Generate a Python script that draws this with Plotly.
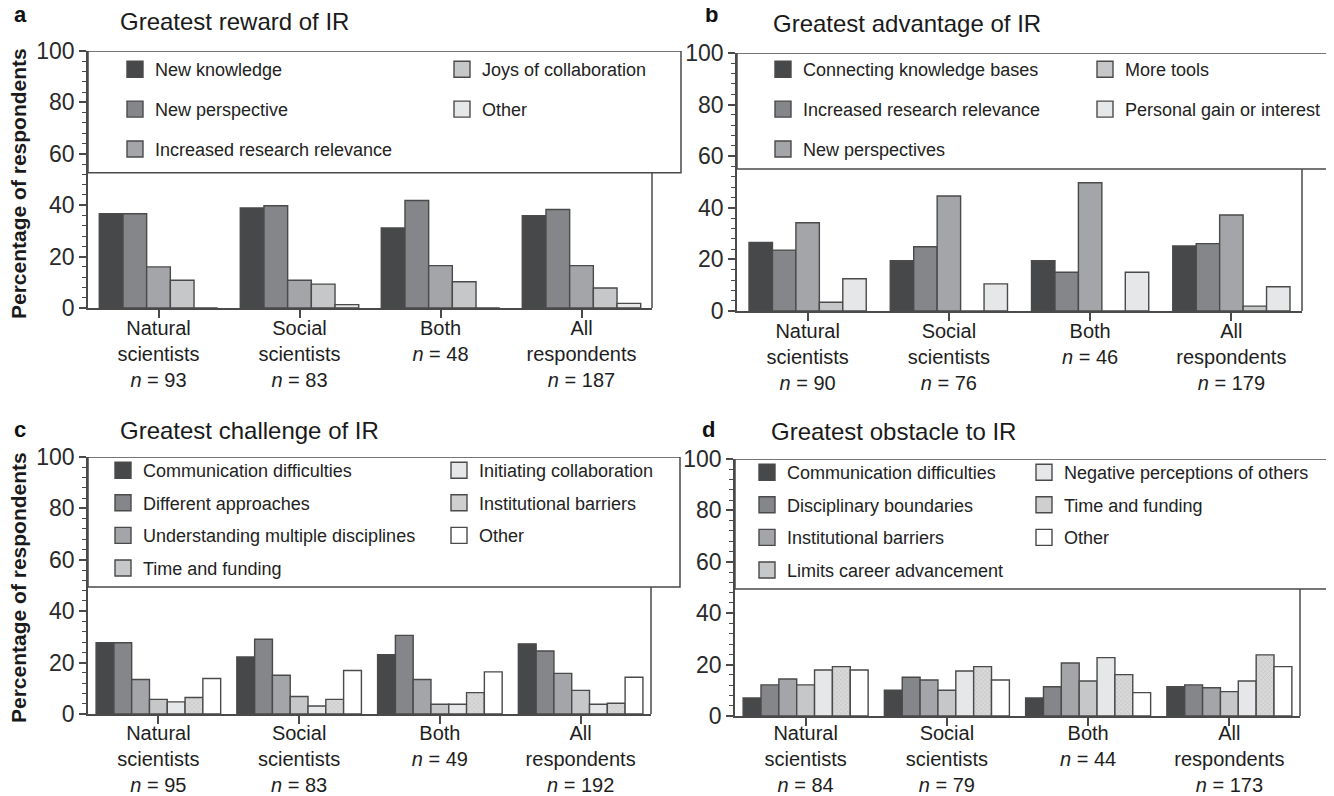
import plotly.graph_objects as go

# The page places the figure 8 px from the window's top-left corner,
# so the figure is sized to the remaining visible area and positions are
# given in window pixels minus that offset.
OFF = 8
W, H = 1334 - OFF, 796 - OFF
FONT = "Liberation Sans, Arial, Helvetica, sans-serif"

groups = ["Natural scientists", "Social scientists", "Both", "All respondents"]
labels_a = ["Natural<br>scientists<br><i>n</i> = 93", "Social<br>scientists<br><i>n</i> = 83",
            "Both<br><i>n</i> = 48", "All<br>respondents<br><i>n</i> = 187"]
labels_b = ["Natural<br>scientists<br><i>n</i> = 90", "Social<br>scientists<br><i>n</i> = 76",
            "Both<br><i>n</i> = 46", "All<br>respondents<br><i>n</i> = 179"]
labels_c = ["Natural<br>scientists<br><i>n</i> = 95", "Social<br>scientists<br><i>n</i> = 83",
            "Both<br><i>n</i> = 49", "All<br>respondents<br><i>n</i> = 192"]
labels_d = ["Natural<br>scientists<br><i>n</i> = 84", "Social<br>scientists<br><i>n</i> = 79",
            "Both<br><i>n</i> = 44", "All<br>respondents<br><i>n</i> = 173"]

# Panel a: Greatest reward of IR
series_a = ["New knowledge", "New perspective", "Increased research relevance",
            "Joys of collaboration", "Other"]
values_a = [
    [36.7, 38.9, 31.1, 35.9],
    [36.7, 39.8, 41.8, 38.3],
    [16.0, 10.8, 16.5, 16.5],
    [10.8, 9.3, 10.2, 7.8],
    [0.0, 1.3, 0.0, 1.8],
]
# Panel b: Greatest advantage of IR
series_b = ["Connecting knowledge bases", "Increased research relevance", "New perspectives",
            "More tools", "Personal gain or interest"]
values_b = [
    [26.6, 19.5, 19.5, 25.2],
    [23.6, 24.9, 15.0, 26.1],
    [34.2, 44.6, 49.7, 37.2],
    [3.4, 0.0, 0.0, 1.9],
    [12.5, 10.5, 15.0, 9.4],
]
# Panel c: Greatest challenge of IR
series_c = ["Communication difficulties", "Different approaches", "Understanding multiple disciplines",
            "Time and funding", "Initiating collaboration", "Institutional barriers", "Other"]
values_c = [
    [27.7, 22.2, 23.1, 27.3],
    [27.7, 29.1, 30.6, 24.5],
    [13.4, 15.1, 13.4, 15.8],
    [5.7, 6.8, 3.8, 9.2],
    [4.7, 3.1, 3.8, 3.8],
    [6.4, 5.7, 8.3, 4.2],
    [13.8, 16.9, 16.4, 14.3],
]
# Panel d: Greatest obstacle to IR
series_d = ["Communication difficulties", "Disciplinary boundaries", "Institutional barriers",
            "Limits career advancement", "Negative perceptions of others", "Time and funding", "Other"]
values_d = [
    [7.0, 10.0, 7.0, 11.4],
    [12.1, 15.1, 11.4, 12.1],
    [14.4, 14.0, 20.6, 11.0],
    [12.1, 10.0, 13.6, 9.5],
    [17.9, 17.5, 22.7, 13.6],
    [19.2, 19.2, 16.1, 23.8],
    [17.9, 14.0, 9.1, 19.2],
]

C1, C2, C3, C4, C5, C7 = "#47484a", "#858689", "#a4a5a8", "#c6c7c9", "#e6e7e8", "#ffffff"
HATCH = "hatch"
colors_a = [C1, C2, C3, C4, C5]
colors_b = [C1, C2, C3, C4, C5]
colors_c = [C1, C2, C3, C4, C5, HATCH, C7]
colors_d = [C1, C2, C3, C4, C5, HATCH, C7]


def px_x(p):
    return (p - OFF) / W


def px_y(p):
    return (H - (p - OFF)) / H


panels = [
    dict(s=series_a, v=values_a, c=colors_a, lab=labels_a, x=(88, 652), y=(51, 308), frac=0.84,
         split=3, boxmin=52.6, boxright=681, lx=(115, 442), ltop=51, gap=13.5, so=-7),
    dict(s=series_b, v=values_b, c=colors_b, lab=labels_b, x=(737, 1302), y=(53, 311), frac=0.83,
         split=3, boxmin=55.0, boxright=1330, lx=(763, 1085), ltop=51, gap=13.5, so=-7),
    dict(s=series_c, v=values_c, c=colors_c, lab=labels_c, x=(88, 651), y=(457, 714), frac=0.885,
         split=4, boxmin=49.4, boxright=680, lx=(103, 439), ltop=452, gap=6.2, so=-8),
    dict(s=series_d, v=values_d, c=colors_d, lab=labels_d, x=(735, 1300), y=(459, 716), frac=0.885,
         split=4, boxmin=49.4, boxright=1330, lx=(747, 1024), ltop=454, gap=6.2, so=-10),
]

fig = go.Figure()
layout = {}
shapes = []
LINE = "#4a4a4a"
for pi, p in enumerate(panels):
    ax = "" if pi == 0 else str(pi + 1)
    n = len(p["s"])
    w = p["frac"] / n
    for i, (name, vals, col) in enumerate(zip(p["s"], p["v"], p["c"])):
        col_legend = 0 if i < p["split"] else 1
        lname = "legend" + ("" if (2 * pi + col_legend) == 0 else str(2 * pi + col_legend + 1))
        grp = "g%d_%d" % (pi, i)
        if col == HATCH:
            marker = dict(color="#d4d4d4", line=dict(color=LINE, width=1.4),
                          pattern=dict(shape="x", size=3, solidity=0.3, fgcolor="#a0a0a0", bgcolor="#dadada"))
            swatch = "#cfcfcf"
        else:
            marker = dict(color=col, line=dict(color=LINE, width=1.4))
            swatch = col
        fig.add_trace(go.Bar(
            x=list(range(len(groups))), y=vals, name=name, marker=marker,
            width=w, offset=-p["frac"] / 2 + i * w,
            xaxis="x" + ax, yaxis="y" + ax, legend=lname,
            legendgroup=grp, showlegend=False,
        ))
        # legend swatch only (no data points)
        fig.add_trace(go.Scatter(
            x=[None], y=[None], mode="markers", name=name,
            marker=dict(symbol="square", size=17, color=swatch, line=dict(color=LINE, width=1.4)),
            xaxis="x" + ax, yaxis="y" + ax, legend=lname, legendgroup=grp, showlegend=True,
            hoverinfo="skip",
        ))
    layout["xaxis" + ax] = dict(
        domain=[px_x(p["x"][0]), px_x(p["x"][1])], anchor="y" + ax,
        range=[-0.5, 3.5], tickmode="array", tickvals=[0, 1, 2, 3], ticktext=p["lab"],
        showline=True, linecolor=LINE, linewidth=1.5, ticks="outside", ticklen=8,
        tickcolor=LINE, tickwidth=1.5, tickson="boundaries", showgrid=False, zeroline=False,
        tickfont=dict(size=20, color="#1e1e1e", family=FONT), fixedrange=True,
        ticklabelstandoff=p["so"], automargin=False,
    )
    layout["yaxis" + ax] = dict(
        domain=[px_y(p["y"][1]), px_y(p["y"][0])], anchor="x" + ax,
        range=[0, 100], tickmode="array", tickvals=[0, 20, 40, 60, 80, 100],
        showline=True, linecolor=LINE, linewidth=1.5, ticks="outside", ticklen=7,
        tickcolor=LINE, tickwidth=1.5, showgrid=False, zeroline=False,
        tickfont=dict(size=23, color="#2a2a2a", family=FONT), automargin=False,
        minor=dict(dtick=4, ticks="outside", ticklen=4, tickcolor=LINE, tickwidth=1),
    )
    shapes.append(dict(type="rect", xref="paper", yref="y" + ax,
                       x0=px_x(p["x"][0]), x1=px_x(p["boxright"]), y0=p["boxmin"], y1=100,
                       line=dict(color=LINE, width=1.5), fillcolor="white", layer="above"))
    shapes.append(dict(type="line", xref="x" + ax + " domain", yref="y" + ax,
                       x0=1, x1=1, y0=0, y1=p["boxmin"], line=dict(color=LINE, width=1.5)))
    for k in range(2):
        lname = "legend" + ("" if (2 * pi + k) == 0 else str(2 * pi + k + 1))
        layout[lname] = dict(
            x=px_x(p["lx"][k]), y=px_y(p["ltop"]), xanchor="left", yanchor="top",
            orientation="v", bgcolor="rgba(0,0,0,0)", borderwidth=0,
            font=dict(size=18, color="#222222", family=FONT), itemsizing="trace",
            tracegroupgap=p["gap"], itemclick=False, itemdoubleclick=False,
        )

annotations = []
titles = [("a", 12, 15, "Greatest reward of IR", 118, 22),
          ("b", 703, 15, "Greatest advantage of IR", 771, 24),
          ("c", 12, 429, "Greatest challenge of IR", 118, 430),
          ("d", 700, 429, "Greatest obstacle to IR", 769, 431)]
for letter, lx, ly, t, tx, ty in titles:
    annotations.append(dict(text="<b>%s</b>" % letter, x=px_x(lx), y=px_y(ly), xref="paper", yref="paper",
                            xanchor="left", yanchor="middle", showarrow=False,
                            font=dict(size=22, color="#111111", family=FONT)))
    annotations.append(dict(text=t, x=px_x(tx), y=px_y(ty), xref="paper", yref="paper",
                            xanchor="left", yanchor="middle", showarrow=False,
                            font=dict(size=24, color="#1a1a1a", family=FONT)))
for cy in (184, 588):
    annotations.append(dict(text="<b>Percentage of respondents</b>", x=px_x(18), y=px_y(cy),
                            xref="paper", yref="paper", xanchor="center", yanchor="middle",
                            textangle=-90, showarrow=False,
                            font=dict(size=21, color="#1a1a1a", family=FONT)))

fig.update_layout(
    width=W, height=H, margin=dict(l=0, r=0, t=0, b=0, autoexpand=False),
    paper_bgcolor="white", plot_bgcolor="white",
    font=dict(family=FONT), showlegend=True,
    shapes=shapes, annotations=annotations, **layout,
)
fig.write_html("out.html")
